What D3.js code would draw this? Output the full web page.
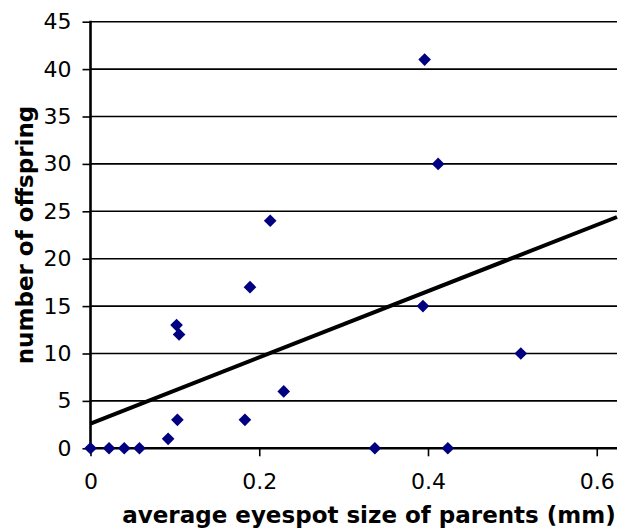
<!DOCTYPE html>
<html>
<head>
<meta charset="utf-8">
<script src="https://cdn.jsdelivr.net/npm/d3@7"></script>
<style>
  body { margin: 0; background: #fff; }
  svg { display: block; }
</style>
</head>
<body>
<div id="chart"></div>
<script>
// eyespot size (mm) vs number of offspring
var eyespot = [0, 0.022, 0.040, 0.058, 0.092, 0.102, 0.105, 0.103, 0.183, 0.189, 0.213, 0.229, 0.337, 0.394, 0.396, 0.412, 0.4235, 0.510];
var offspring = [0, 0, 0, 0, 1, 13, 12, 3, 3, 17, 24, 6, 0, 15, 41, 30, 0, 10];

// trend line end points
var trend_x = [0, 0.624];
var trend_y = [2.6, 24.4];

var x_ticks = [0, 0.2, 0.4, 0.6];
var y_ticks = [0, 5, 10, 15, 20, 25, 30, 35, 40, 45];

var chart_width = 619;
var chart_height = 531;

var svg = d3.select('#chart')
    .append('svg')
    .attr('width', chart_width)
    .attr('height', chart_height);

var x_scale = d3.scaleLinear()
    .domain([0, 0.624])
    .range([90.5, 617]);

var y_scale = d3.scaleLinear()
    .domain([0, 45])
    .range([448.3, 21.7]);

var font = 'DejaVu Sans, Verdana, sans-serif';

// Gridlines
svg.append('g')
    .selectAll('line')
    .data(y_ticks)
    .enter()
    .append('line')
    .attr('x1', x_scale(0))
    .attr('x2', x_scale(0.624))
    .attr('y1', function(d) { return y_scale(d); })
    .attr('y2', function(d) { return y_scale(d); })
    .attr('stroke', '#000')
    .attr('stroke-width', 1.6);

// Y axis
var y_axis = d3.axisLeft(y_scale)
    .tickValues(y_ticks)
    .tickSize(8)
    .tickPadding(11);
var gy = svg.append('g')
    .attr('transform', 'translate(' + x_scale(0) + ',0)')
    .call(y_axis);
gy.select('.domain').remove();
gy.selectAll('.tick line').attr('stroke', '#000').attr('stroke-width', 1.6);
gy.selectAll('text')
    .attr('font-family', font)
    .attr('font-size', 22)
    .attr('fill', '#000');

svg.append('line')
    .attr('x1', x_scale(0)).attr('x2', x_scale(0))
    .attr('y1', y_scale(45) - 1).attr('y2', y_scale(0) + 1)
    .attr('stroke', '#000')
    .attr('stroke-width', 2.6);

// X axis
var x_axis = d3.axisBottom(x_scale)
    .tickValues(x_ticks)
    .tickFormat(function(d) { return d === 0 ? '0' : d3.format('.1f')(d); })
    .tickSize(8)
    .tickPadding(17);
var gx = svg.append('g')
    .attr('transform', 'translate(0,' + y_scale(0) + ')')
    .call(x_axis);
gx.select('.domain').remove();
gx.selectAll('.tick line').attr('stroke', '#000').attr('stroke-width', 1.6);
gx.selectAll('text')
    .attr('font-family', font)
    .attr('font-size', 22)
    .attr('fill', '#000');

svg.append('line')
    .attr('x1', x_scale(0)).attr('x2', x_scale(0.624))
    .attr('y1', y_scale(0)).attr('y2', y_scale(0))
    .attr('stroke', '#000')
    .attr('stroke-width', 2.6);

// Trend line
svg.append('line')
    .attr('x1', x_scale(trend_x[0]))
    .attr('y1', y_scale(trend_y[0]))
    .attr('x2', x_scale(trend_x[1]))
    .attr('y2', y_scale(trend_y[1]))
    .attr('stroke', '#000')
    .attr('stroke-width', 4);

// Points
var diamond = d3.symbol().type(d3.symbolSquare).size(80);
svg.append('g')
    .selectAll('path')
    .data(d3.range(eyespot.length))
    .enter()
    .append('path')
    .attr('d', diamond)
    .attr('transform', function(i) {
        return 'translate(' + x_scale(eyespot[i]) + ',' + y_scale(offspring[i]) + ') rotate(45)';
    })
    .attr('fill', '#000080');

// Axis titles
svg.append('text')
    .text('number of offspring')
    .attr('transform', 'translate(33,235) rotate(-90)')
    .attr('text-anchor', 'middle')
    .attr('font-family', font)
    .attr('font-weight', 'bold')
    .attr('font-size', 23)
    .attr('fill', '#000');

svg.append('text')
    .text('average eyespot size of parents (mm)')
    .attr('x', 369)
    .attr('y', 523)
    .attr('text-anchor', 'middle')
    .attr('font-family', font)
    .attr('font-weight', 'bold')
    .attr('font-size', 23)
    .attr('fill', '#000');
</script>
</body>
</html>
